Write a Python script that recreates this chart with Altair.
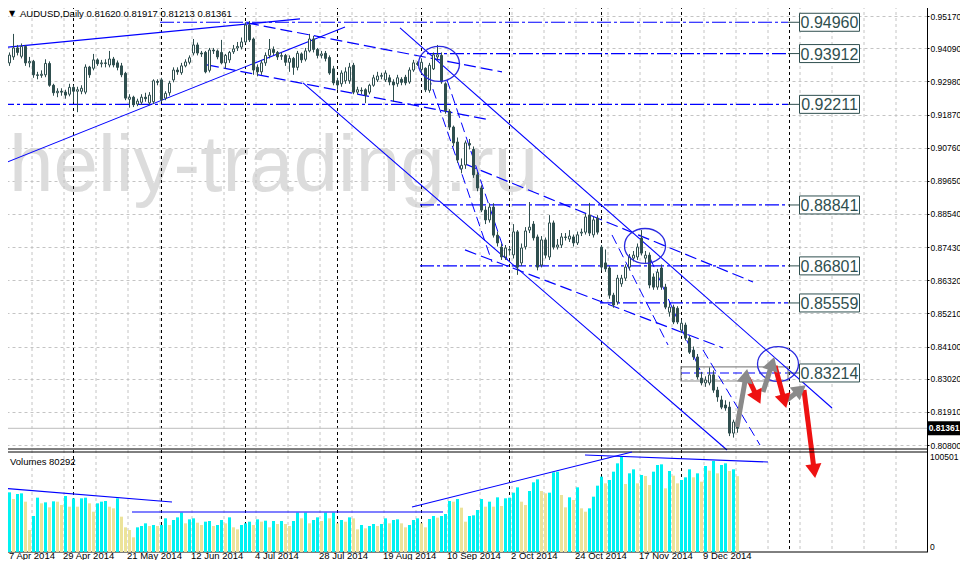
import math
import altair as alt
import pandas as pd

# ---------------- data ----------------
opens = [
0.9262,0.9279,0.9360,0.9380,0.9410,0.9382,0.9415,0.9360,0.9365,0.9320,
0.9318,0.9320,0.9358,0.9285,0.9260,0.9265,0.9262,0.9255,0.9278,0.9265,
0.9265,0.9262,0.9346,0.9342,0.9370,0.9357,0.9360,0.9353,0.9373,0.9360,
0.9350,0.9325,0.9238,0.9245,0.9222,0.9228,0.9245,0.9226,0.9230,0.9298,
0.9303,0.9242,0.9260,0.9303,0.9336,0.9327,0.9350,0.9362,0.9393,0.9420,
0.9393,0.9395,0.9335,0.9403,0.9400,0.9395,0.9360,0.9370,0.9397,0.9410,
0.9413,0.9430,0.9487,0.9440,0.9345,0.9330,0.9360,0.9385,0.9405,0.9395,
0.9382,0.9385,0.9362,0.9375,0.9345,0.9390,0.9372,0.9400,0.9440,0.9405,
0.9385,0.9392,0.9378,0.9340,0.9300,0.9290,0.9300,0.9300,0.9352,0.9262,
0.9268,0.9270,0.9262,0.9285,0.9303,0.9315,0.9303,0.9310,0.9296,0.9290,
0.9305,0.9312,0.9296,0.9336,0.9358,0.9338,0.9342,0.9268,0.9340,0.9380,
0.9385,0.9290,0.9198,0.9145,0.9095,0.9005,0.9018,0.9090,0.9070,0.8985,
0.8941,0.8867,0.8834,0.8877,0.8783,0.8743,0.8710,0.8735,0.8717,0.8794,
0.8690,0.8744,0.8800,0.8820,0.8777,0.8683,0.8767,0.8710,0.8824,0.8743,
0.8750,0.8777,0.8770,0.8777,0.8757,0.8790,0.8793,0.8850,0.8784,0.8840,
0.8743,0.8690,0.8673,0.8582,0.8559,0.8620,0.8639,0.8676,0.8706,0.8710,
0.8773,0.8706,0.8716,0.8643,0.8609,0.8673,0.8609,0.8525,0.8542,0.8538,
0.8465,0.8482,0.8438,0.8398,0.8375,0.8304,0.8288,0.8288,0.8315,0.8264,
0.8231,0.8214,0.8207,0.8120,0.8162]
highs = [
0.9300,0.9370,0.9395,0.9457,0.9420,0.9425,0.9420,0.9380,0.9370,0.9330,
0.9335,0.9372,0.9365,0.9290,0.9275,0.9275,0.9270,0.9290,0.9285,0.9280,
0.9285,0.9355,0.9350,0.9390,0.9375,0.9370,0.9372,0.9400,0.9380,0.9368,
0.9360,0.9330,0.9255,0.9250,0.9240,0.9255,0.9260,0.9262,0.9305,0.9305,
0.9310,0.9265,0.9300,0.9345,0.9345,0.9360,0.9372,0.9385,0.9440,0.9428,
0.9400,0.9400,0.9410,0.9410,0.9405,0.9437,0.9390,0.9400,0.9420,0.9430,
0.9445,0.9496,0.9500,0.9445,0.9355,0.9370,0.9395,0.9440,0.9415,0.9400,
0.9395,0.9390,0.9385,0.9380,0.9400,0.9395,0.9410,0.9457,0.9450,0.9410,
0.9400,0.9400,0.9385,0.9350,0.9310,0.9335,0.9345,0.9360,0.9360,0.9280,
0.9278,0.9275,0.9290,0.9320,0.9330,0.9327,0.9335,0.9320,0.9305,0.9320,
0.9312,0.9320,0.9345,0.9370,0.9365,0.9375,0.9345,0.9360,0.9395,0.9420,
0.9395,0.9295,0.9205,0.9150,0.9110,0.9040,0.9100,0.9105,0.9080,0.8995,
0.8950,0.8880,0.8890,0.8890,0.8795,0.8755,0.8750,0.8745,0.8820,0.8800,
0.8755,0.8810,0.8894,0.8830,0.8785,0.8780,0.8775,0.8850,0.8832,0.8770,
0.8790,0.8790,0.8800,0.8785,0.8795,0.8805,0.8855,0.8891,0.8845,0.8850,
0.8750,0.8735,0.8680,0.8590,0.8650,0.8650,0.8685,0.8720,0.8730,0.8755,
0.8800,0.8730,0.8725,0.8655,0.8670,0.8685,0.8620,0.8555,0.8550,0.8545,
0.8500,0.8490,0.8445,0.8410,0.8385,0.8325,0.8310,0.8340,0.8330,0.8275,
0.8245,0.8230,0.8225,0.8165,0.81917]
lows = [
0.9250,0.9270,0.9350,0.9370,0.9385,0.9375,0.9350,0.9345,0.9310,0.9305,
0.9310,0.9312,0.9280,0.9250,0.9245,0.9250,0.9240,0.9248,0.9228,0.9195,
0.9255,0.9255,0.9310,0.9335,0.9350,0.9345,0.9345,0.9345,0.9345,0.9335,
0.9312,0.9235,0.9210,0.9212,0.9215,0.9220,0.9230,0.9218,0.9222,0.9285,
0.9228,0.9235,0.9250,0.9295,0.9320,0.9320,0.9345,0.9355,0.9385,0.9385,
0.9380,0.9325,0.9328,0.9390,0.9372,0.9355,0.9340,0.9360,0.9390,0.9400,
0.9405,0.9425,0.9430,0.9320,0.9315,0.9320,0.9350,0.9375,0.9385,0.9370,
0.9370,0.9350,0.9330,0.9320,0.9335,0.9360,0.9365,0.9395,0.9395,0.9375,
0.9375,0.9365,0.9320,0.9285,0.9270,0.9280,0.9290,0.9290,0.9255,0.9255,
0.9255,0.9225,0.9255,0.9280,0.9296,0.9305,0.9296,0.9285,0.9230,0.9280,
0.9285,0.9285,0.9290,0.9330,0.9350,0.9330,0.9262,0.9260,0.9336,0.9370,
0.9290,0.9190,0.9135,0.9080,0.9025,0.8990,0.9005,0.9070,0.8975,0.8930,
0.8860,0.8820,0.8825,0.8775,0.8745,0.8700,0.8700,0.8715,0.8705,0.8650,
0.8680,0.8735,0.8790,0.8765,0.8665,0.8675,0.8705,0.8700,0.8735,0.8735,
0.8740,0.8765,0.8760,0.8745,0.8750,0.8780,0.8785,0.8780,0.8775,0.8785,
0.8665,0.8660,0.8570,0.8540,0.8550,0.8610,0.8630,0.8665,0.8695,0.8700,
0.8715,0.8690,0.8605,0.8600,0.8600,0.8600,0.8535,0.8510,0.8485,0.8485,
0.8455,0.8430,0.8385,0.8365,0.8300,0.8280,0.8275,0.8280,0.8255,0.8225,
0.8200,0.8195,0.8110,0.8105,0.81213]
closes = [
0.9293,0.9360,0.9386,0.9410,0.9395,0.9415,0.9360,0.9365,0.9320,0.9318,
0.9322,0.9358,0.9285,0.9260,0.9265,0.9262,0.9252,0.9278,0.9265,0.9270,
0.9275,0.9346,0.9320,0.9370,0.9357,0.9360,0.9358,0.9373,0.9353,0.9345,
0.9320,0.9242,0.9245,0.9220,0.9232,0.9245,0.9240,0.9252,0.9300,0.9295,
0.9236,0.9258,0.9292,0.9336,0.9330,0.9350,0.9363,0.9377,0.9420,0.9393,
0.9390,0.9330,0.9403,0.9400,0.9380,0.9360,0.9385,0.9395,0.9407,0.9415,
0.9430,0.9487,0.9437,0.9336,0.9330,0.9360,0.9385,0.9405,0.9395,0.9380,
0.9385,0.9362,0.9375,0.9345,0.9392,0.9370,0.9400,0.9440,0.9405,0.9385,
0.9390,0.9375,0.9326,0.9293,0.9286,0.9326,0.9330,0.9346,0.9262,0.9270,
0.9266,0.9252,0.9285,0.9310,0.9316,0.9318,0.9326,0.9296,0.9286,0.9310,
0.9295,0.9293,0.9336,0.9360,0.9355,0.9362,0.9270,0.9352,0.9387,0.9387,
0.9296,0.9200,0.9145,0.9092,0.9035,0.9017,0.9092,0.9085,0.8985,0.8941,
0.8867,0.8834,0.8877,0.8783,0.8757,0.8710,0.8740,0.8733,0.8794,0.8676,
0.8740,0.8797,0.8810,0.8774,0.8676,0.8767,0.8716,0.8824,0.8743,0.8750,
0.8777,0.8775,0.8780,0.8757,0.8784,0.8793,0.8844,0.8790,0.8834,0.8793,
0.8676,0.8670,0.8582,0.8549,0.8639,0.8639,0.8676,0.8710,0.8716,0.8743,
0.8723,0.8716,0.8616,0.8609,0.8659,0.8609,0.8542,0.8542,0.8492,0.8492,
0.8488,0.8438,0.8391,0.8375,0.8308,0.8288,0.8298,0.8315,0.8264,0.8241,
0.8207,0.8204,0.8120,0.8157,0.81361]
volumes = [
64890,60306,63127,56074,61364,62069,53252,23275,38087,57485,
51489,52547,47257,53605,53252,49726,59248,47962,56779,47962,
56779,57485,51489,42672,51489,53252,53958,47962,46199,56779,
37382,26096,23275,15516,26096,27507,30328,27507,28565,27507,
28565,35619,28565,33855,36677,41614,30328,34561,35619,31034,
28565,32092,32797,27507,28565,33855,30328,36677,26096,23980,
28565,30328,32092,28565,34561,32092,33150,26096,32797,29623,
32797,29623,27507,32797,41614,35619,41614,30328,33855,36677,
32797,41614,35619,41614,30328,33855,32092,36677,35619,23980,
28565,25038,27507,29623,27507,29623,35619,30328,33855,34561,
30328,26096,28565,33855,35619,30328,26096,34914,38087,36324,
38087,40203,53958,53252,56074,46904,32092,38087,38792,44433,
56074,47962,53252,47962,57837,48668,56779,57485,62775,68417,
53252,49726,64538,73707,76881,64538,62069,62775,84287,84993,
60306,47257,57837,55016,68417,46199,42672,46199,58542,70181,
79702,72649,76176,84993,93809,100501,71944,83229,87461,72649,
81466,80408,70886,84993,92046,92751,67359,85698,80761,72649,
76176,78997,87461,78997,83229,74412,90988,86051,96278,83229,
92046,93809,85698,87461,80292]

date_labels = ["7 Apr 2014", "29 Apr 2014", "21 May 2014", "12 Jun 2014",
               "4 Jul 2014", "28 Jul 2014", "19 Aug 2014", "10 Sep 2014",
               "2 Oct 2014", "24 Oct 2014", "17 Nov 2014", "9 Dec 2014"]
date_label_bars = [0, 16, 32, 48, 64, 80, 96, 112, 128, 144, 160, 176]
month_start_bars = [18, 40, 61, 84, 105, 127, 150, 170, 197]
price_ticks = [0.95170, 0.94090, 0.92980, 0.91870, 0.90760, 0.89650, 0.88540,
               0.87430, 0.86320, 0.85210, 0.84100, 0.83020, 0.81910, 0.80800]

level_prices = [0.94960, 0.93912, 0.92211, 0.88841, 0.86801, 0.85559]
level_from_bars = [39.75, 106.5, -0.25, 104.75, 104.75, 149.75]
target_price = 0.83214
target_from_bar = 170.0
target_box_prices = [0.83416, 0.82946]
all_label_prices = [0.94960, 0.93912, 0.92211, 0.88841, 0.86801, 0.85559, 0.83214]
all_label_texts = ["0.94960", "0.93912", "0.92211", "0.88841", "0.86801", "0.85559", "0.83214"]
last_close = 0.81361

# trend lines (bar index, price)
solid_x1 = [-0.25, -0.25, 99.75, 75.5]
solid_p1 = [0.94102, 0.90182, 0.94772, 0.92929]
solid_x2 = [74.75, 86.0, 207.75, 181.5]
solid_p2 = [0.95073, 0.94805, 0.82042, 0.80635]

dash_x1 = [61.5, 51.5, 116.0, 116.0]
dash_p1 = [0.94940, 0.93532, 0.90216, 0.87335]
dash_x2 = [125.25, 122.25, 188.0, 180.5]
dash_p2 = [0.93298, 0.91690, 0.86263, 0.84052]

steep_x1 = [106.75, 111.5, 152.75, 162.25, 175.5]
steep_p1 = [0.93197, 0.93030, 0.87837, 0.87067, 0.83985]
steep_x2 = [122.75, 126.75, 166.75, 174.75, 189.75]
steep_p2 = [0.86933, 0.86933, 0.84152, 0.83315, 0.80802]

circle_x = [109.5, 161.0, 194.25]
circle_p = [0.93566, 0.87469, 0.83516]

arrow_x1 = [184.0, 186.75, 190.5, 193.5, 196.5, 200.75]
arrow_p1 = [0.81405, 0.83047, 0.82578, 0.83449, 0.82310, 0.82645]
arrow_x2 = [186.5, 189.75, 193.25, 196.25, 201.0, 203.5]
arrow_p2 = [0.83315, 0.82209, 0.83717, 0.82075, 0.82779, 0.79730]
arrow_kind = ["up", "down", "up", "down", "up", "down"]

vol_x1 = [-0.25, 32.75, 102.75, 146.0]
vol_v1 = [67712, 42320, 47610, 102626]
vol_x2 = [42.75, 110.5, 157.75, 191.75]
vol_v2 = [52900, 42320, 105800, 95220]

# ---------------- layout / style ----------------
W, H = 927, 552
X_DOMAIN = [-0.25, 231.5]
PRICE_DOMAIN = [0.77218, 0.95706]
VOL_DOMAIN = [0, 584016]
PX_BAR = W / (X_DOMAIN[1] - X_DOMAIN[0])
PX_PRICE = H / (PRICE_DOMAIN[1] - PRICE_DOMAIN[0])
FONT = "Liberation Sans"
CANDLE = "#2F4F4F"
SLATE = "#2F4F4F"
BLUE = "#0000ff"
GRID = "#c4c4c4"
CYAN = "#00f2f2"
KHAKI = "#ece39a"
ARROW_COL = {"up": "#8a8a8a", "down": "#ee1111"}

xs = alt.Scale(domain=X_DOMAIN, nice=False, zero=False)
ps = alt.Scale(domain=PRICE_DOMAIN, nice=False, zero=False)
vs = alt.Scale(domain=VOL_DOMAIN, nice=False, zero=False)


def X(f):
    return alt.X(f, type="quantitative", scale=xs, axis=None)


def YP(f, axis=None):
    return alt.Y(f, type="quantitative", scale=ps, axis=axis)


def YV(f):
    return alt.Y(f, type="quantitative", scale=vs, axis=None)


n = len(closes)
cdf = pd.DataFrame({"i": list(range(n)), "o": opens, "h": highs, "l": lows, "c": closes})
cdf["xc"] = cdf["i"] + 0.125
cdf["x0"] = cdf["i"] - 0.125
cdf["x1"] = cdf["i"] + 0.375

vcol = []
for k, v in enumerate(volumes):
    vcol.append(CYAN if (k == 0 or v > volumes[k - 1]) else KHAKI)
vdf = pd.DataFrame({"i": list(range(n)), "v": volumes, "col": vcol})
vdf["x0"] = vdf["i"] - 0.25
vdf["x1"] = vdf["i"] + 0.5
vdf["zero"] = 0

price_axis = alt.Axis(orient="right", values=price_ticks, format=".5f", grid=True,
                      gridColor=GRID, gridDash=[3, 3], gridWidth=1, domain=True,
                      domainColor="#000000", domainWidth=1, ticks=True, tickColor="#000000",
                      tickSize=2, labelFont=FONT, labelFontSize=8.5, labelColor="#000000",
                      labelPadding=1, title=None, labelOverlap=False, labelFlush=False)

layers = []

# watermark
layers.append(alt.Chart(pd.DataFrame({"t": ["heliy-trading.ru"]})).mark_text(
    font=FONT, fontSize=80, color="#dcdcdc", align="left", baseline="alphabetic").encode(
    text="t", x=alt.value(9), y=alt.value(191)))

# vertical grid and month separators
grid_bars = [8 * k - 0.25 for k in range(1, 29)]
layers.append(alt.Chart(pd.DataFrame({"g": grid_bars})).mark_rule(
    color=GRID, strokeWidth=1, strokeDash=[3, 3]).encode(
    x=X("g"), y=alt.value(0), y2=alt.value(H)))
layers.append(alt.Chart(pd.DataFrame({"m": [b + 0.125 for b in month_start_bars]})).mark_rule(
    color="#000000", strokeWidth=1, strokeDash=[3, 3]).encode(
    x=X("m"), y=alt.value(0), y2=alt.value(H)))

# last price line
layers.append(alt.Chart(pd.DataFrame({"p": [last_close], "a": [X_DOMAIN[0]], "b": [X_DOMAIN[1]]})).mark_rule(
    color="#bdbdbd", strokeWidth=1).encode(x=X("a"), x2="b", y=YP("p")))

# horizontal levels
ldf = pd.DataFrame({"p": level_prices, "a": level_from_bars, "b": [196.75] * len(level_prices)})
layers.append(alt.Chart(ldf).mark_rule(color=BLUE, strokeWidth=1.2, strokeDash=[14, 3, 3, 3]).encode(
    x=X("a"), x2="b", y=YP("p")))
layers.append(alt.Chart(pd.DataFrame({"p": [target_price], "a": [target_from_bar], "b": [196.75]})).mark_rule(
    color=BLUE, strokeWidth=1.2, strokeDash=[9, 4]).encode(x=X("a"), x2="b", y=YP("p")))
layers.append(alt.Chart(pd.DataFrame({"a": [target_from_bar], "b": [196.75],
                                      "p1": [target_box_prices[0]], "p2": [target_box_prices[1]]})).mark_rect(
    fillOpacity=0, stroke="#8c8c8c", strokeWidth=1.2).encode(
    x=X("a"), x2="b", y=YP("p1"), y2="p2"))
layers.append(alt.Chart(pd.DataFrame({"p": all_label_prices, "a": [196.75] * 7, "b": [199.75] * 7})).mark_rule(
    color=SLATE, strokeWidth=1).encode(x=X("a"), x2="b", y=YP("p")))

# trend lines
sdf = pd.DataFrame({"a": solid_x1, "pa": solid_p1, "b": solid_x2, "pb": solid_p2})
layers.append(alt.Chart(sdf).mark_rule(color=BLUE, strokeWidth=1.1).encode(
    x=X("a"), x2="b", y=YP("pa"), y2="pb"))
ddf = pd.DataFrame({"a": dash_x1, "pa": dash_p1, "b": dash_x2, "pb": dash_p2})
layers.append(alt.Chart(ddf).mark_rule(color=BLUE, strokeWidth=1.2, strokeDash=[12, 5]).encode(
    x=X("a"), x2="b", y=YP("pa"), y2="pb"))
stdf = pd.DataFrame({"a": steep_x1, "pa": steep_p1, "b": steep_x2, "pb": steep_p2})
layers.append(alt.Chart(stdf).mark_rule(color=BLUE, strokeWidth=1, strokeDash=[10, 5]).encode(
    x=X("a"), x2="b", y=YP("pa"), y2="pb"))

# candles (this layer carries the price axis)
layers.append(alt.Chart(cdf).mark_rule(color=CANDLE, strokeWidth=1).encode(
    x=X("xc"), y=YP("l", axis=price_axis), y2="h"))
layers.append(alt.Chart(cdf).mark_rect(stroke=CANDLE, strokeWidth=1).encode(
    x=X("x0"), x2="x1", y=YP("o"), y2="c",
    fill=alt.condition("datum.c >= datum.o", alt.value("#ffffff"), alt.value(CANDLE))))

# ellipses
ELLIPSE = "M-1,0A1,0.85,0,1,1,1,0A1,0.85,0,1,1,-1,0Z"
layers.append(alt.Chart(pd.DataFrame({"x": circle_x, "p": circle_p})).mark_point(
    shape=ELLIPSE, size=1680, filled=False, color="#2a2ae0", strokeWidth=1.3, opacity=1).encode(
    x=X("x"), y=YP("p")))

# arrows
rows = []
for x1, p1, x2, p2, kind in zip(arrow_x1, arrow_p1, arrow_x2, arrow_p2, arrow_kind):
    dx = (x2 - x1) * PX_BAR
    dy = -(p2 - p1) * PX_PRICE
    ln = math.hypot(dx, dy)
    ux, uy = dx / ln, dy / ln
    ang = math.degrees(math.atan2(dx, -dy)) % 360
    rows.append({"a": x1, "pa": p1,
                 "b": x2 - 7 * ux / PX_BAR, "pb": p2 + 7 * uy / PX_PRICE,
                 "hx": x2 - 6 * ux / PX_BAR, "hp": p2 + 6 * uy / PX_PRICE,
                 "ang": ang, "col": ARROW_COL[kind]})
adf = pd.DataFrame(rows)
layers.append(alt.Chart(adf).mark_rule(strokeWidth=5).encode(
    x=X("a"), x2="b", y=YP("pa"), y2="pb", color=alt.Color("col", scale=None)))
layers.append(alt.Chart(adf).mark_point(shape="triangle-up", size=260, filled=True, opacity=1).encode(
    x=X("hx"), y=YP("hp"), angle=alt.Angle("ang", scale=None), color=alt.Color("col", scale=None)))

# level labels
BOX = "M-1,-0.3H1V0.3H-1Z"
lab = pd.DataFrame({"x": [207.125] * 7, "p": all_label_prices, "t": all_label_texts})
layers.append(alt.Chart(lab).mark_point(shape=BOX, size=3600, filled=True, fill="#ffffff",
                                        stroke=SLATE, strokeWidth=1, opacity=1).encode(
    x=X("x"), y=YP("p")))
layers.append(alt.Chart(lab).mark_text(font=FONT, fontSize=16, color=SLATE, align="center",
                                       baseline="middle", dy=1).encode(
    text="t", x=X("x"), y=YP("p")))

# last price tag
CUR = "M-1,-0.42H1V0.42H-1Z"
cur = pd.DataFrame({"p": [last_close], "t": ["0.81361"]})
layers.append(alt.Chart(cur).mark_point(shape=CUR, size=1089, filled=True, color="#000000", opacity=1).encode(
    x=alt.value(944), y=YP("p")))
layers.append(alt.Chart(cur).mark_text(font=FONT, fontSize=8.5, fontWeight="bold", color="#ffffff",
                                       align="center", baseline="middle").encode(
    text="t", x=alt.value(944), y=YP("p")))

# panel borders
layers.append(alt.Chart(pd.DataFrame({"y": [449, 452, 552]})).mark_rule(color="#000000", strokeWidth=1).encode(
    x=alt.value(0), x2=alt.value(W), y=alt.Y("y", type="quantitative", scale=None)))

# title, date labels
layers.append(alt.Chart(pd.DataFrame({"t": ["\u25bc"]})).mark_text(
    font="DejaVu Sans", fontSize=8, color="#000000", align="left", baseline="middle").encode(
    text="t", x=alt.value(9), y=alt.value(14)))
layers.append(alt.Chart(pd.DataFrame({"t": ["AUDUSD,Daily  0.81620 0.81917 0.81213 0.81361"]})).mark_text(
    font=FONT, fontSize=9.5, color="#000000", align="left", baseline="middle").encode(
    text="t", x=alt.value(20), y=alt.value(14)))
layers.append(alt.Chart(pd.DataFrame({"t": ["Volumes 80292"]})).mark_text(
    font=FONT, fontSize=9.5, color="#000000", align="left", baseline="middle").encode(
    text="t", x=alt.value(10), y=alt.value(462)))
date_x = [max(b - 0.5, 2.0) for b in date_label_bars]
layers.append(alt.Chart(pd.DataFrame({"b": date_x, "t": date_labels})).mark_text(
    font=FONT, fontSize=9.5, color="#000000", align="left", baseline="middle").encode(
    text="t", x=X("b"), y=alt.value(556)))

price_group = alt.layer(*layers).resolve_axis(y="independent")

# volume panel
vlayers = []
vlayers.append(alt.Chart(vdf).mark_rect().encode(
    x=X("x0"), x2="x1", y=YV("v"), y2="zero", fill=alt.Fill("col", scale=None)))
vl = pd.DataFrame({"a": vol_x1, "va": vol_v1, "b": vol_x2, "vb": vol_v2})
vlayers.append(alt.Chart(vl).mark_rule(color=BLUE, strokeWidth=1.2).encode(
    x=X("a"), x2="b", y=YV("va"), y2="vb"))
vlayers.append(alt.Chart(pd.DataFrame({"v": [100501], "t": ["100501"]})).mark_text(
    font=FONT, fontSize=8.5, color="#000000", align="left", baseline="middle").encode(
    text="t", x=alt.value(930), y=YV("v")))
vlayers.append(alt.Chart(pd.DataFrame({"v": [0], "t": ["0"]})).mark_text(
    font=FONT, fontSize=8.5, color="#000000", align="left", baseline="middle", dy=-5).encode(
    text="t", x=alt.value(930), y=YV("v")))
vol_group = alt.layer(*vlayers)

chart = alt.layer(price_group, vol_group).resolve_scale(y="independent").properties(
    width=W, height=H,
    padding={"left": -8, "top": -8, "right": 33, "bottom": 8},
    autosize=alt.AutoSizeParams(type="none"),
    background="#ffffff",
).configure_view(strokeWidth=0)

chart.save("out.html", embed_options={"renderer": "svg", "actions": False})
